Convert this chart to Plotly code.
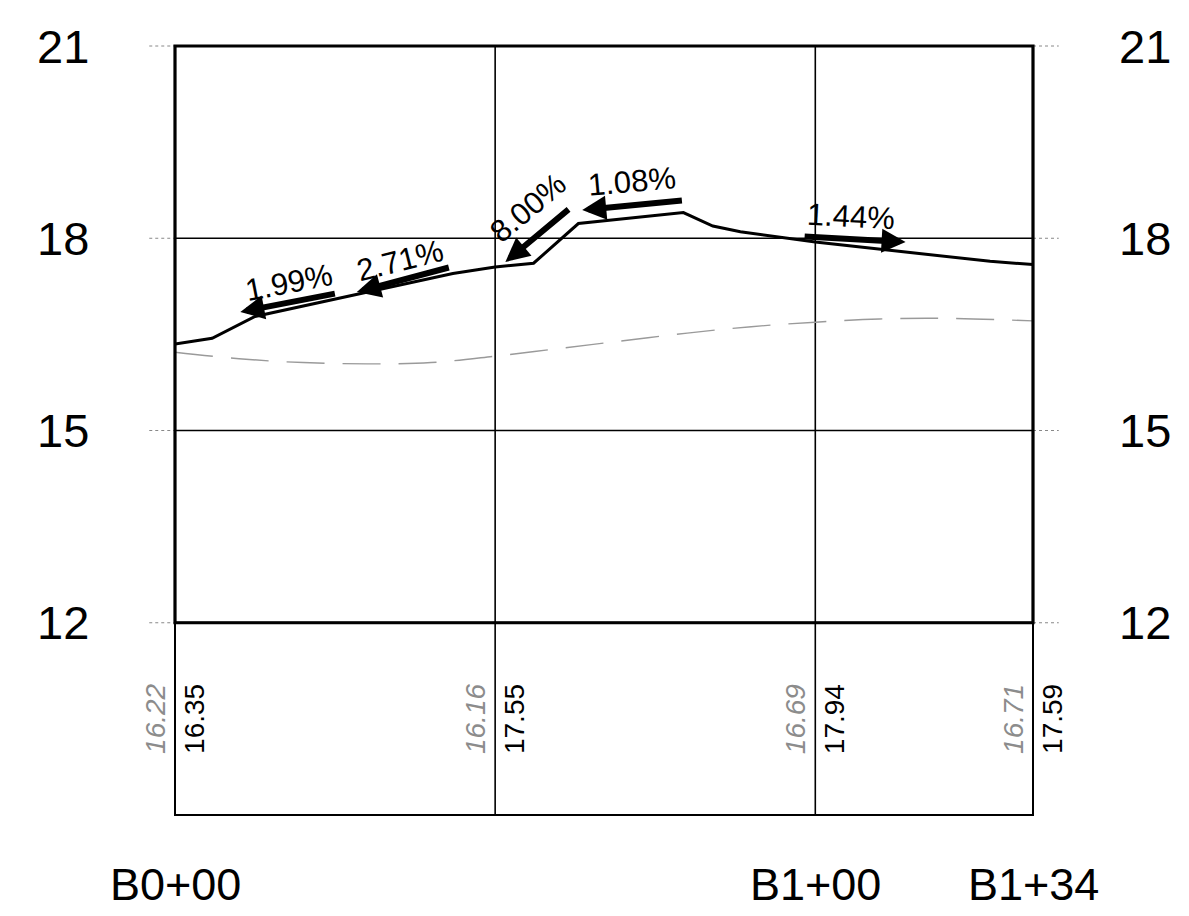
import plotly.graph_objects as go

# ---------------- data ----------------
prop_sta = [0, 5.8, 12.5, 43.4, 50, 56, 63, 79.4, 84, 88.3, 100, 127.3, 134]
prop_elev = [16.35, 16.44, 16.78, 17.45, 17.55, 17.61, 18.23, 18.40, 18.19, 18.10, 17.94, 17.64, 17.59]

ground_sta = [0, 10, 20, 30, 40, 50, 60, 70, 80, 90, 100, 110, 120, 134]
ground_elev = [16.22, 16.12, 16.06, 16.04, 16.06, 16.16, 16.28, 16.40, 16.52, 16.62, 16.69, 16.74, 16.75, 16.71]

# grade arrows: tail (station, elev) -> head (station, elev), label, label position, angle
grade_labels = ["1.99%", "2.71%", "8.00%", "1.08%", "1.44%"]
grade_tail_sta = [25.2, 43.0, 61.7, 79.4, 98.1]
grade_tail_elev = [17.14, 17.55, 18.47, 18.59, 18.03]
grade_head_sta = [10.2, 28.4, 51.6, 63.6, 114.1]
grade_head_elev = [16.85, 17.16, 17.63, 18.44, 17.94]
grade_text_sta = [17.8, 35.2, 55.2, 71.4, 105.5]
grade_text_elev = [17.31, 17.66, 18.48, 18.88, 18.34]
grade_text_angle = [-11, -14, -40, -5, 3]

elev_ticks = [12, 15, 18, 21]
station_vals = [0, 50, 100, 134]
station_labels = {0: "B0+00", 100: "B1+00", 134: "B1+34"}
table_ground = ["16.22", "16.16", "16.69", "16.71"]
table_prop = ["16.35", "17.55", "17.94", "17.59"]

X_MIN, X_MAX = 0, 134
Y_TABLE, Y_MIN, Y_MAX = 9, 12, 21
FONT = "Liberation Sans, Arial, sans-serif"


def ypaper(e):
    return (e - Y_TABLE) / (Y_MAX - Y_TABLE)


fig = go.Figure()

# existing ground (dashed)
fig.add_trace(go.Scatter(x=ground_sta, y=ground_elev, mode="lines", line_shape="spline",
                         line=dict(color="#9a9a9a", width=1.4, dash="38px,18px"),
                         hoverinfo="skip", showlegend=False))
# proposed profile
fig.add_trace(go.Scatter(x=prop_sta, y=prop_elev, mode="lines",
                         line=dict(color="black", width=3),
                         hoverinfo="skip", showlegend=False))

shapes = []
# horizontal gridlines inside plot
for e in elev_ticks[1:-1]:
    shapes.append(dict(type="line", xref="paper", yref="y", x0=0, x1=1, y0=e, y1=e,
                       line=dict(color="black", width=1.6), layer="below"))
# vertical gridlines (plot + table)
for s in station_vals[1:-1]:
    shapes.append(dict(type="line", xref="x", yref="paper", x0=s, x1=s, y0=0, y1=1,
                       line=dict(color="black", width=1.6), layer="below"))
# tick extensions outside the frame
for e in elev_ticks:
    shapes.append(dict(type="line", xref="paper", yref="paper", x0=-0.03, x1=0,
                       y0=ypaper(e), y1=ypaper(e), line=dict(color="#888", width=1, dash="dot")))
    shapes.append(dict(type="line", xref="paper", yref="paper", x0=1, x1=1.03,
                       y0=ypaper(e), y1=ypaper(e), line=dict(color="#888", width=1, dash="dot")))
# table frame
shapes.append(dict(type="rect", xref="paper", yref="paper", x0=0, x1=1, y0=0, y1=ypaper(Y_MIN),
                   line=dict(color="black", width=2)))
# main frame
shapes.append(dict(type="rect", xref="paper", yref="paper", x0=0, x1=1, y0=ypaper(Y_MIN), y1=1,
                   line=dict(color="black", width=3.2)))

annotations = []
# elevation labels both sides
for e in elev_ticks:
    annotations.append(dict(xref="paper", yref="y", x=-0.13, y=e, text=str(e), showarrow=False,
                            xanchor="center", yanchor="middle",
                            font=dict(family=FONT, size=47, color="black")))
    annotations.append(dict(xref="paper", yref="y", x=1.13, y=e, text=str(e), showarrow=False,
                            xanchor="center", yanchor="middle",
                            font=dict(family=FONT, size=47, color="black")))
# station labels
for s, lab in station_labels.items():
    annotations.append(dict(xref="x", yref="paper", x=s, y=-0.091, text=lab, showarrow=False,
                            xanchor="center", yanchor="middle",
                            font=dict(family=FONT, size=45, color="black")))
# table values
for s, g, p in zip(station_vals, table_ground, table_prop):
    annotations.append(dict(xref="x", yref="y", x=s, y=10.5, text="<i>" + g + "</i>", showarrow=False,
                            textangle=-90, xanchor="center", yanchor="middle", xshift=-19,
                            font=dict(family=FONT, size=28, color="#8c8c8c")))
    annotations.append(dict(xref="x", yref="y", x=s, y=10.5, text=p, showarrow=False,
                            textangle=-90, xanchor="center", yanchor="middle", xshift=20,
                            font=dict(family=FONT, size=28, color="black")))
# grade arrows and labels
for i in range(len(grade_labels)):
    annotations.append(dict(xref="x", yref="y", axref="x", ayref="y",
                            x=grade_head_sta[i], y=grade_head_elev[i],
                            ax=grade_tail_sta[i], ay=grade_tail_elev[i],
                            text="", showarrow=True, arrowhead=2, arrowsize=0.8,
                            arrowwidth=6, arrowcolor="black", standoff=0, startstandoff=0))
    annotations.append(dict(xref="x", yref="y", x=grade_text_sta[i], y=grade_text_elev[i],
                            text=grade_labels[i], showarrow=False, textangle=grade_text_angle[i],
                            xanchor="center", yanchor="middle",
                            font=dict(family=FONT, size=31, color="black")))

fig.update_layout(
    width=1189, height=916,
    margin=dict(l=175, r=156, t=46, b=101),
    paper_bgcolor="white", plot_bgcolor="white",
    xaxis=dict(range=[X_MIN, X_MAX], showgrid=False, zeroline=False, showticklabels=False,
               ticks="", showline=False, fixedrange=True),
    yaxis=dict(range=[Y_TABLE, Y_MAX], showgrid=False, zeroline=False, showticklabels=False,
               ticks="", showline=False, fixedrange=True),
    shapes=shapes, annotations=annotations, showlegend=False,
)

fig.write_html("out.html", config={"displayModeBar": False},
               post_script="document.body.style.margin='0px';")
